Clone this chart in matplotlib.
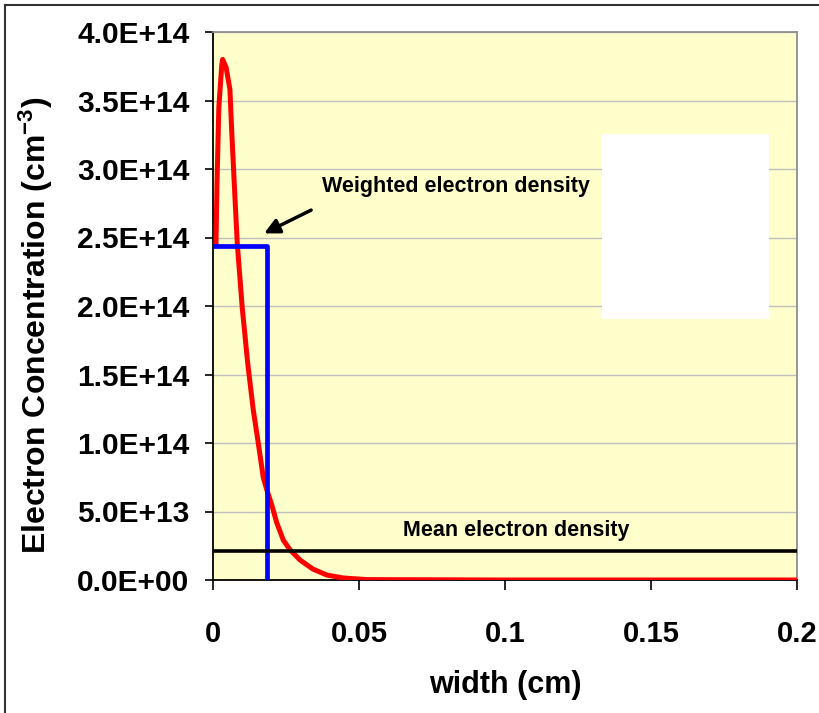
import matplotlib
matplotlib.use("Agg")
import matplotlib.pyplot as plt
from matplotlib.lines import Line2D
from matplotlib.patches import Rectangle
from matplotlib.ticker import FuncFormatter

plt.rcParams['font.family'] = ['Liberation Sans', 'DejaVu Sans']
plt.rcParams['font.weight'] = 'bold'
plt.rcParams['mathtext.fontset'] = 'custom'
plt.rcParams['mathtext.rm'] = 'Liberation Sans:bold'
plt.rcParams['mathtext.default'] = 'rm'

# electron concentration profile across the gap
width_cm = [0.00103, 0.00137, 0.0020, 0.0030, 0.0033, 0.0045, 0.0058, 0.0064,
            0.0075, 0.0083, 0.0100, 0.0119, 0.0138, 0.0155, 0.0172, 0.0184,
            0.0201, 0.0218, 0.0241, 0.0264, 0.0298, 0.0342, 0.0390,
            0.0445, 0.0527, 0.1000, 0.2000]
density = [2.46e14, 2.90e14, 3.45e14, 3.76e14, 3.80e14, 3.74e14, 3.58e14, 3.28e14,
           2.80e14, 2.46e14, 1.99e14, 1.58e14, 1.24e14, 1.00e14, 0.75e14, 0.66e14,
           0.55e14, 0.42e14, 0.29e14, 0.22e14, 0.146e14, 0.08e14, 0.036e14,
           0.015e14, 0.003e14, 0.0, 0.0]

# weighted density as a step and the mean density level
weighted_x = [0.0, 0.0184, 0.0184]
weighted_y = [2.44e14, 2.44e14, 0.0]
mean_x = [0.0, 0.2]
mean_y = [2.14e13, 2.14e13]


def sci_label(v, pos):
    if v == 0:
        return '0.0E+00'
    mant, exp = f'{v:.1E}'.split('E')
    return f'{mant}E+{int(exp):02d}'


fig = plt.figure(figsize=(8.2, 7.13), dpi=100)
ax = fig.add_axes([213/820, 1 - 580/713, (797-213)/820, (580-32)/713])
ax.set_facecolor('#FFFFCC')

ax.plot(width_cm, density, color='#FF0000', lw=3.6, solid_joinstyle='round', zorder=3)
ax.plot(weighted_x, weighted_y, color='#0000FF', lw=3.4, zorder=4)
ax.plot(mean_x, mean_y, color='black', lw=2.6, zorder=4)

# blank box where the legend sat
ax.add_patch(Rectangle((0.1332, 1.905e14), 0.0572, 1.35e14,
                       facecolor='white', edgecolor='none', zorder=5))

ax.set_xlim(0, 0.2)
ax.set_ylim(0, 4e14)
ax.set_xticks([0, 0.05, 0.1, 0.15, 0.2])
ax.set_yticks([i * 5e13 for i in range(9)])
ax.xaxis.set_major_formatter(FuncFormatter(lambda v, p: '%g' % v))
ax.yaxis.set_major_formatter(FuncFormatter(sci_label))
ax.grid(axis='y', color='#C0C0C0', lw=1)
ax.set_axisbelow(True)

ax.tick_params(axis='y', length=6, width=1.2, pad=11, labelsize=21.5)
ax.tick_params(axis='x', length=7, width=1.2, pad=22, labelsize=21)
for s in ['left', 'bottom']:
    ax.spines[s].set_color('black')
    ax.spines[s].set_linewidth(1.3)
for s in ['top', 'right']:
    ax.spines[s].set_color('#909090')
    ax.spines[s].set_linewidth(1.3)

ax.set_xlabel('width (cm)', fontsize=22, fontweight='bold', labelpad=16)
ax.set_ylabel('Electron Concentration (cm$^{-3}$)', fontsize=23, fontweight='bold')
ax.yaxis.set_label_coords(-0.270, 0.465)

ax.annotate('', xy=(0.0175, 2.53e14), xytext=(0.0336, 2.70e14),
            arrowprops=dict(arrowstyle='-|>,head_length=0.9,head_width=0.45',
                            color='black', lw=2.5, shrinkA=0, shrinkB=0), zorder=6)
ax.text(0.0373, 2.87e14, 'Weighted electron density', fontsize=15.5, fontweight='bold',
        va='center', ha='left', zorder=6)
ax.text(0.0651, 0.36e14, 'Mean electron density', fontsize=15.5, fontweight='bold',
        va='center', ha='left', zorder=6)

# chart area border
fig.add_artist(Line2D([5/820, 5/820], [0, 1 - 5/713], transform=fig.transFigure,
                      color='#333333', lw=1.5))
fig.add_artist(Line2D([5/820, 1], [1 - 5/713, 1 - 5/713], transform=fig.transFigure,
                      color='#333333', lw=1.5))

fig.savefig('out.png', dpi=100)
